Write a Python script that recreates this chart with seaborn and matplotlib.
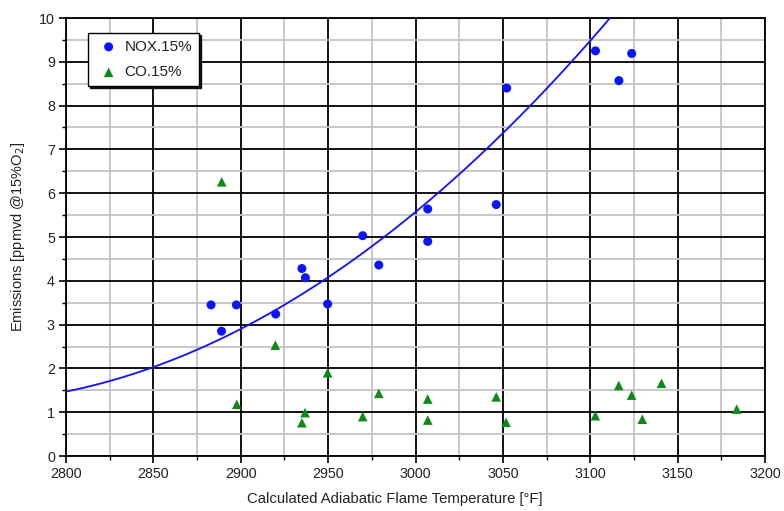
import matplotlib
matplotlib.use("Agg")
import matplotlib.pyplot as plt
import seaborn as sns
import numpy as np
import pandas as pd
from matplotlib.ticker import MultipleLocator

# NOx emissions (corrected to 15% O2) vs calculated adiabatic flame temperature
nox_temp = [2883, 2889, 2897.5, 2920, 2935, 2937, 2949.7, 2969.8, 2979,
            3007, 3007, 3046.2, 3052.2, 3103, 3116.4, 3123.7]
nox_ppm = [3.45, 2.85, 3.45, 3.24, 4.28, 4.07, 3.47, 5.03, 4.36,
           5.64, 4.90, 5.74, 8.40, 9.25, 8.57, 9.19]

# CO emissions (corrected to 15% O2)
co_temp = [2889.1, 2897.7, 2919.8, 2935, 2936.8, 2949.7, 2969.8, 2979,
           3007, 3007, 3046.2, 3051.8, 3102.9, 3116.3, 3123.7, 3129.8,
           3140.8, 3183.8]
co_ppm = [6.26, 1.18, 2.53, 0.76, 0.99, 1.90, 0.90, 1.43,
          1.30, 0.82, 1.35, 0.77, 0.92, 1.61, 1.39, 0.84,
          1.66, 1.07]

# NOx polynomial trend line: ppm = c2*dT^2 + c1*dT + c0, with dT = T - trend_ref
trend_ref = 2800
trend_coef = [6.2e-5, 0.0081, 1.47]

x_ticks = [2800, 2850, 2900, 2950, 3000, 3050, 3100, 3150, 3200]
y_ticks = list(range(0, 11))

sns.set_style("white")
plt.rcParams["font.family"] = ["Liberation Sans", "DejaVu Sans"]

fig = plt.figure(figsize=(7.84, 5.11), dpi=100)
ax = fig.add_axes([66 / 784, 55 / 511, 699 / 784, 438 / 511])

ax.set_xlim(2800, 3200)
ax.set_ylim(0, 10)

# grid: black major lines, grey minor lines
ax.xaxis.set_major_locator(MultipleLocator(50))
ax.xaxis.set_minor_locator(MultipleLocator(25))
ax.yaxis.set_major_locator(MultipleLocator(1))
ax.yaxis.set_minor_locator(MultipleLocator(0.5))
ax.grid(which="minor", color="#c4c4c4", lw=1.3, zorder=0)
ax.grid(which="major", color="black", lw=1.3, zorder=0.5)
ax.set_axisbelow(True)

nox_df = pd.DataFrame({"temp": nox_temp, "ppm": nox_ppm})
co_df = pd.DataFrame({"temp": co_temp, "ppm": co_ppm})

# trend line evaluated across the plotted temperature range
t_line = np.linspace(2800, 3200, 401)
trend_df = pd.DataFrame({"temp": t_line,
                         "ppm": np.polyval(trend_coef, t_line - trend_ref)})
sns.lineplot(data=trend_df, x="temp", y="ppm", ax=ax, color="#1010ff",
             lw=1.3, zorder=3, legend=False)

sns.scatterplot(data=nox_df, x="temp", y="ppm", ax=ax, marker="o", s=42,
                color="#0a14ff", edgecolor="none", label="NOX.15%", zorder=4)
sns.scatterplot(data=co_df, x="temp", y="ppm", ax=ax, marker="^", s=48,
                color="#0f8a1a", edgecolor="none", label="CO.15%", zorder=4)

ax.set_xlim(2800, 3200)
ax.set_ylim(0, 10)
ax.set_xticks(x_ticks)
ax.set_yticks(y_ticks)

for s in ax.spines.values():
    s.set_color("black")
    s.set_linewidth(1.3)

ax.tick_params(which="major", direction="out", length=5, width=1.2,
               color="black", labelsize=10.3, labelcolor="#222222", pad=3)
ax.tick_params(which="minor", direction="out", length=3, width=1.0,
               color="black")
ax.tick_params(axis="x", bottom=True, which="both")
ax.tick_params(axis="y", left=True, which="both")

ax.set_xlabel("Calculated Adiabatic Flame Temperature [°F]", fontsize=10.7,
              color="#222222", labelpad=8)
ax.xaxis.label.set_x(0.471)
ax.set_ylabel("Emissions [ppmvd @15%O$_2$]", fontsize=10.5, color="#222222",
              labelpad=9)

leg = ax.legend(loc="upper left", bbox_to_anchor=(22 / 699, 1 - 15 / 438),
                frameon=True, fancybox=False,
                shadow={"color": "black", "alpha": 0.9, "ox": 1.5, "oy": -1.5},
                fontsize=11, edgecolor="black", borderpad=0.45,
                labelspacing=0.75, handlelength=1.8, handletextpad=0.15,
                borderaxespad=0)
leg.get_frame().set_linewidth(1.0)
for t in leg.get_texts():
    t.set_color("#222222")

fig.savefig("out.png", dpi=100)
